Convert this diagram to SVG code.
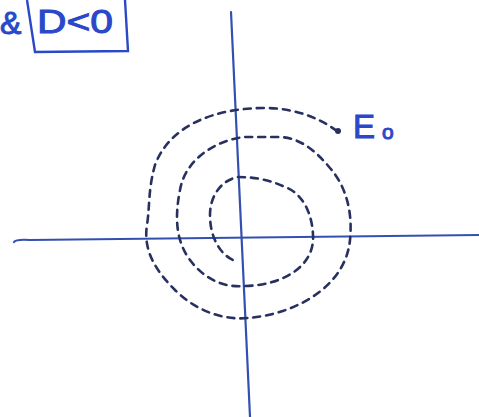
<svg xmlns="http://www.w3.org/2000/svg" width="479" height="417" viewBox="0 0 479 417">
<style>
.axis{stroke:#3350b0;stroke-width:2.2;fill:none;stroke-linecap:round}
.traj{stroke:#27305e;stroke-width:2.6;fill:none;stroke-dasharray:7 6;stroke-linecap:round}
.lbl{font-family:"Liberation Sans",sans-serif;fill:#2a48c8;stroke:#2a48c8;stroke-width:1}
</style>
<rect width="479" height="417" fill="#ffffff"/>
<g id="axes">
<path class="axis" d="M231,12 L250,417"/>
<path class="axis" d="M14,242 Q16,239 30,240 L479,235"/>
</g>
<g id="connectors">
<path class="traj" d="M337,131 C325,122 300,108 265,108 C215,108 170,125 155,165 C148,190 150,205 147,225 C143,250 155,270 175,290 C200,315 230,320 248,318 C290,315 345,290 350,240 C353,210 345,185 330,168 C315,150 300,138 280,137 L245,137 C215,140 185,160 180,190 C175,215 175,240 190,260 C205,280 225,288 245,286 C285,285 315,265 313,235 C312,210 300,192 285,187 C270,180 255,177 238,177 C222,180 210,195 210,215 C210,240 222,255 233,260"/>
</g>
<g id="E0">
<circle cx="338" cy="131" r="3" fill="#27305e"/>
<text class="lbl" x="353" y="138" font-size="33">E</text>
<text class="lbl" x="382" y="139" font-size="21">o</text>
</g>
<g id="condition">
<text class="lbl" x="0" y="34" font-size="32">&amp;</text>
<path d="M27,0 L35,52 L128,51 L125,0" fill="none" stroke="#2a48c8" stroke-width="2.4"/>
<text class="lbl" x="37" y="33" font-size="34" textLength="76" lengthAdjust="spacingAndGlyphs">D&lt;0</text>
</g>
</svg>
